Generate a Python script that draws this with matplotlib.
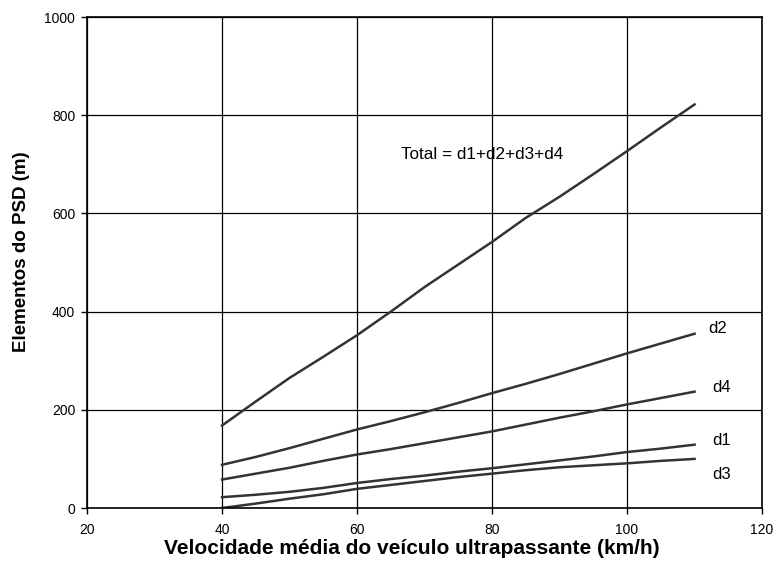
import matplotlib
matplotlib.use("Agg")
import matplotlib.pyplot as plt

plt.rcParams['font.family'] = ['Liberation Sans', 'DejaVu Sans']

# velocidade (km/h)
v = [40, 45, 50, 55, 60, 65, 70, 75, 80, 85, 90, 95, 100, 105, 110]

d1 = [22, 27, 33, 41, 51, 59, 66, 74, 81, 89, 97, 105, 114, 121, 129]
d2 = [88, 104, 122, 141, 160, 177, 195, 214, 234, 253, 273, 294, 315, 335, 355]
d3 = [0, 9, 19, 28, 39, 47, 55, 63, 70, 77, 83, 87, 91, 96, 100]
d4 = [58, 70, 82, 96, 109, 120, 132, 144, 156, 170, 184, 197, 211, 224, 237]
total = [168, 217, 265, 308, 352, 400, 450, 496, 542, 591, 634, 680, 727, 775, 822]

fig = plt.figure(figsize=(7.75, 5.69), dpi=100)
ax = fig.add_axes([0.1123, 0.1072, 0.871, 0.8628])

cor = '#333333'
for y in [total, d2, d4, d1, d3]:
    ax.plot(v, y, color=cor, lw=1.8)

ax.set_xlim(20, 120)
ax.set_ylim(0, 1000)
ax.set_xticks(range(20, 121, 20))
ax.set_yticks(range(0, 1001, 200))
ax.grid(True, color='black', lw=0.9)
ax.tick_params(direction='out', length=4.5, width=1, labelsize=10, colors='black', pad=4)
ax.tick_params(axis='x', pad=6.5)
for s in ax.spines.values():
    s.set_linewidth(1.2)

ax.text(66.5, 720, 'Total = d1+d2+d3+d4', fontsize=12.3, va='center', ha='left')
ax.text(112.0, 366, 'd2', fontsize=12, va='center')
ax.text(112.6, 246, 'd4', fontsize=12, va='center')
ax.text(112.6, 138, 'd1', fontsize=12, va='center')
ax.text(112.6, 69, 'd3', fontsize=12, va='center')

fig.text(411.5 / 775, 1 - 549 / 569, 'Velocidade média do veículo ultrapassante (km/h)',
         fontsize=15, fontweight='bold', ha='center', va='center')
fig.text(22 / 775, 1 - 252 / 569, 'Elementos do PSD (m)', fontsize=13.5,
         fontweight='bold', ha='center', va='center', rotation=90)

fig.savefig('out.png', dpi=100)
